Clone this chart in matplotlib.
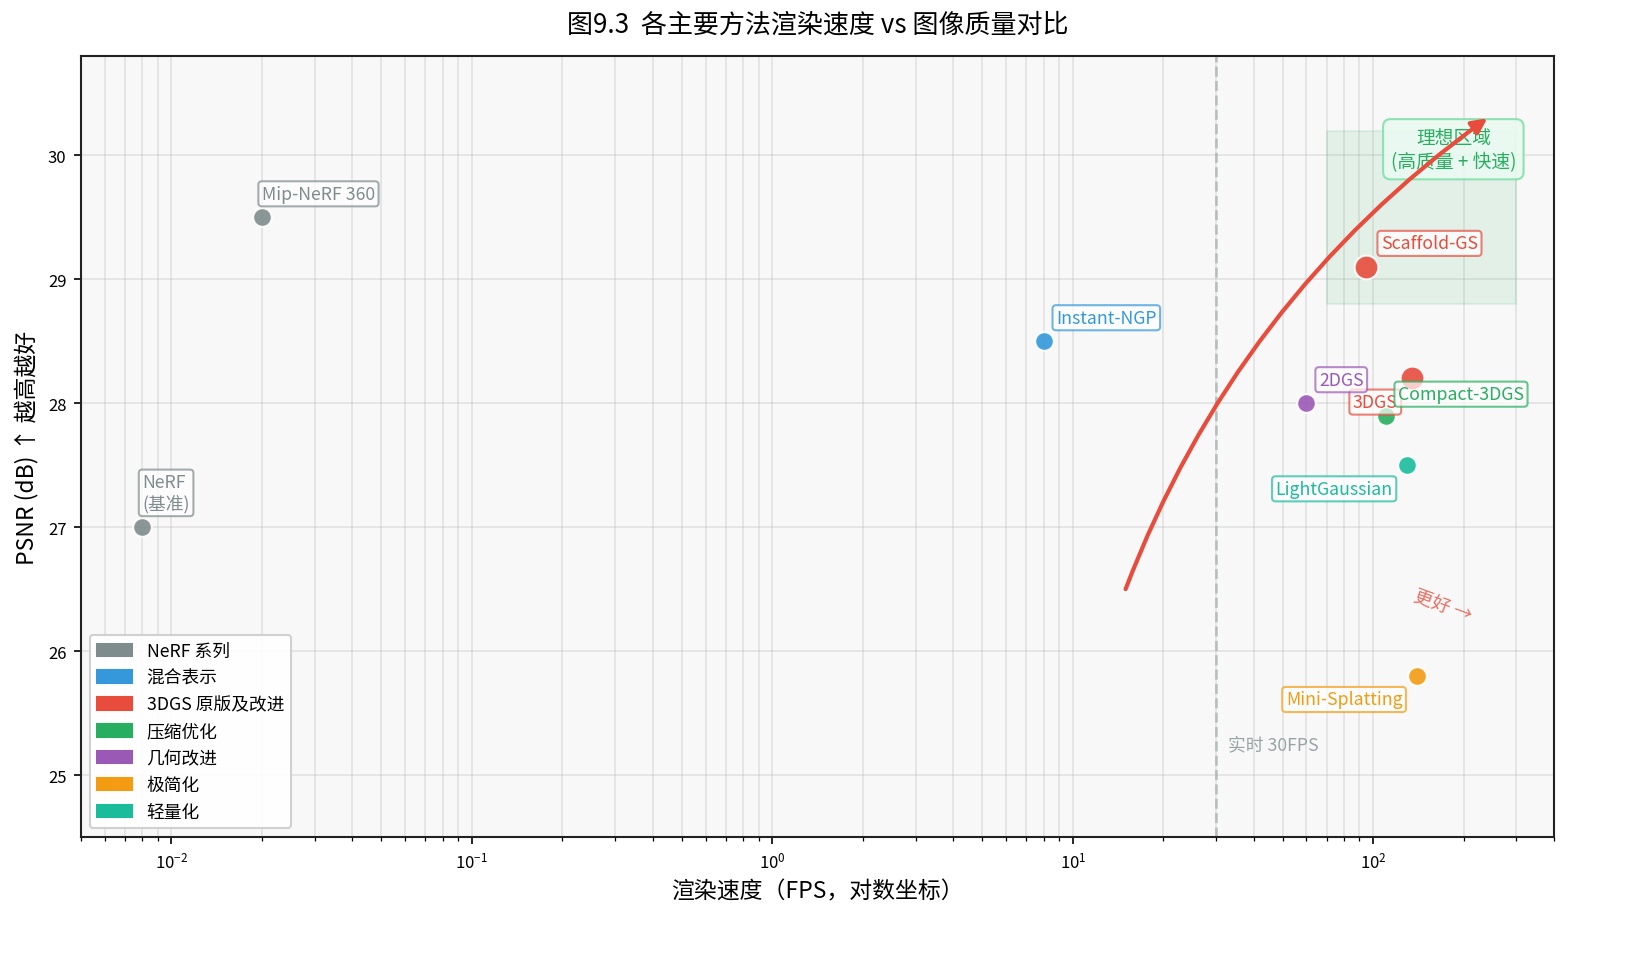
import numpy as np
import matplotlib
matplotlib.use("Agg")
from matplotlib import pyplot as plt
from matplotlib.patches import Patch, Rectangle

plt.rcParams['font.family'] = ['Noto Sans CJK SC', 'DejaVu Sans']
plt.rcParams['axes.unicode_minus'] = False

# data
methods = ['NeRF\n(基准)', 'Mip-NeRF 360', 'Instant-NGP', '3DGS', 'Scaffold-GS',
           'Compact-3DGS', '2DGS', 'LightGaussian', 'Mini-Splatting']
fps = [0.008, 0.02, 8, 135, 95, 110, 60, 130, 140]
psnr = [27.0, 29.5, 28.5, 28.2, 29.1, 27.9, 28.0, 27.5, 25.8]
group = ['nerf', 'nerf', 'hybrid', '3dgs', '3dgs', 'compress', 'geometry', 'light', 'minimal']

group_names = ['nerf', 'hybrid', '3dgs', 'compress', 'geometry', 'minimal', 'light']
group_labels = ['NeRF 系列', '混合表示', '3DGS 原版及改进', '压缩优化', '几何改进', '极简化', '轻量化']
colors = {'nerf': '#7f8c8d', 'hybrid': '#3498db', '3dgs': '#e74c3c', 'compress': '#27ae60',
          'geometry': '#9b59b6', 'minimal': '#f39c12', 'light': '#1abc9c'}

big = ['3DGS', 'Scaffold-GS']
# label offsets (points) and alignment
offsets = {
    'NeRF\n(基准)': (0, 7, 'left', 'bottom'),
    'Mip-NeRF 360': (0, 7, 'left', 'bottom'),
    'Instant-NGP': (6, 7, 'left', 'bottom'),
    '3DGS': (-7, -7, 'right', 'top'),
    'Scaffold-GS': (7, 7, 'left', 'bottom'),
    'Compact-3DGS': (6, 6, 'left', 'bottom'),
    '2DGS': (6, 7, 'left', 'bottom'),
    'LightGaussian': (-7, -7, 'right', 'top'),
    'Mini-Splatting': (-7, -7, 'right', 'top'),
}

fig = plt.figure(figsize=(1634 / 150, 955 / 150), dpi=150)
ax = fig.add_axes([0.0496, 0.1225, 0.9014, 0.8175])
ax.set_facecolor('#f8f8f8')

ax.set_xscale('log')
ax.set_xlim(0.005, 400)
ax.set_ylim(24.5, 30.8)

# ideal region
ax.add_patch(Rectangle((70, 28.8), 230, 1.4, facecolor='#27ae60', alpha=0.1,
                       edgecolor='#27ae60', linewidth=1, zorder=1))
ax.text(185, 30.05, '理想区域\n(高质量 + 快速)', ha='center', va='center', fontsize=9,
        color='#27ae60', zorder=5,
        bbox=dict(boxstyle='round,pad=0.4', facecolor='#eafaf1', edgecolor='#82e0aa', alpha=0.9))

# realtime line
ax.axvline(30, color='#95a5a6', linestyle='--', linewidth=1.3, alpha=0.6, zorder=2)
ax.text(33, 25.25, '实时 30FPS', fontsize=8.5, color='#95a5a6', va='center')

for name, x, y, g in zip(methods, fps, psnr, group):
    c = colors[g]
    s = 130 if name in big else 80
    ax.scatter(x, y, s=s, color=c, alpha=0.9, edgecolors='white', linewidths=1, zorder=4)
    dx, dy, ha, va = offsets[name]
    ax.annotate(name, (x, y), xytext=(dx, dy), textcoords='offset points', fontsize=8.5,
                color=c, ha=ha, va=va, zorder=6,
                bbox=dict(boxstyle='round,pad=0.2', facecolor='white', edgecolor=c, alpha=0.7))

# trend arrow
ax.annotate('', xy=(240, 30.3), xytext=(15, 26.5), zorder=8,
            arrowprops=dict(arrowstyle='-|>', color='#e74c3c', lw=2, mutation_scale=15,
                            shrinkA=0, shrinkB=0,
                            connectionstyle='arc3,rad=-0.15'))
ax.text(170, 26.37, '更好 →', fontsize=9, color='#e74c3c', alpha=0.8, rotation=-20,
        ha='center', va='center')

ax.grid(True, which='both', alpha=0.3)
ax.set_axisbelow(True)
for sp in ax.spines.values():
    sp.set_linewidth(1.0)
    sp.set_color('#222222')
ax.tick_params(labelsize=8)

ax.set_xlabel('渲染速度（FPS，对数坐标）', fontsize=11)
ax.set_ylabel('PSNR (dB) ↑ 越高越好', fontsize=11)
ax.set_title('图9.3  各主要方法渲染速度 vs 图像质量对比', fontsize=12.5, pad=12)

handles = [Patch(color=colors[g], label=l) for g, l in zip(group_names, group_labels)]
ax.legend(handles=handles, loc='lower left', fontsize=8.5, framealpha=0.9)

fig.savefig('out.png', dpi=150)
